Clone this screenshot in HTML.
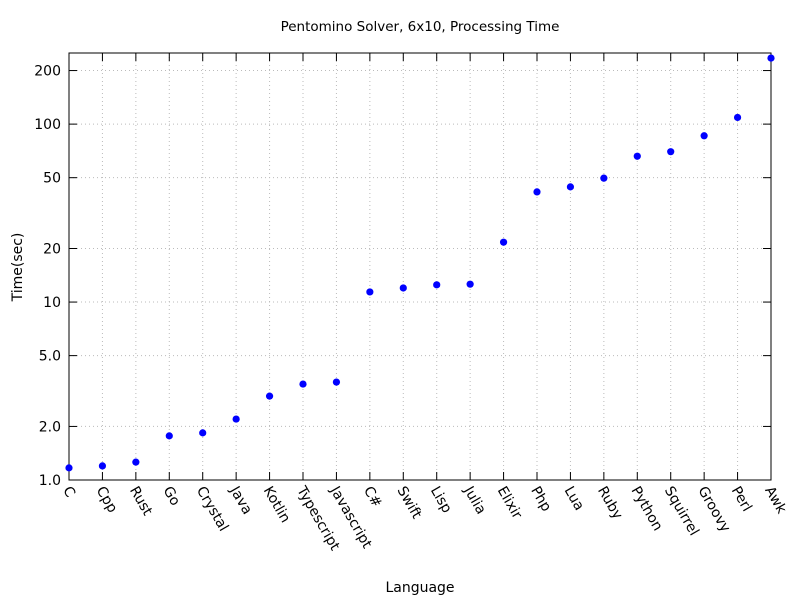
<!DOCTYPE html>
<html><head><meta charset="utf-8"><style>
body{margin:0;background:#fff}
svg{display:block;font-family:"DejaVu Sans","Liberation Sans",sans-serif}
</style></head><body>
<svg id="chart" width="800" height="600" viewBox="0 0 800 600">
<rect width="800" height="600" fill="#fff"/>
<text x="420" y="31" font-size="13.5" text-anchor="middle">Pentomino Solver, 6x10, Processing Time</text>
<g id="grid"></g>
<g id="axes"></g>
<g id="points"></g>
<text x="420" y="592" font-size="14" text-anchor="middle">Language</text>
<text transform="translate(22,267) rotate(-90)" font-size="14" text-anchor="middle">Time(sec)</text>
</svg>
<script>
const categories=["C","Cpp","Rust","Go","Crystal","Java","Kotlin","Typescript","Javascript","C#","Swift","Lisp","Julia","Elixir","Php","Lua","Ruby","Python","Squirrel","Groovy","Perl","Awk"];
const times=[1.17,1.2,1.26,1.77,1.84,2.2,2.96,3.46,3.55,11.4,12.0,12.5,12.6,21.7,41.6,44.4,49.7,66,70,86,109,235];
const yTicks=[1,2,5,10,20,50,100,200];
const yTickLabels=["1.0","2.0","5.0","10","20","50","100","200"];
const L=69,R=771,T=53,B=480,yMin=1,yMax=251;
const NS="http://www.w3.org/2000/svg";
function xs(i){return L+i*(R-L)/(categories.length-1);}
function ys(v){return B-(Math.log10(v)-Math.log10(yMin))/(Math.log10(yMax)-Math.log10(yMin))*(B-T);}
function mk(tag,attrs,parent){const e=document.createElementNS(NS,tag);for(const k in attrs)e.setAttribute(k,attrs[k]);parent.appendChild(e);return e;}
const grid=document.getElementById('grid'),axes=document.getElementById('axes'),pts=document.getElementById('points');
yTicks.forEach((t,i)=>{const y=ys(t);
 const g=mk('line',{x1:L,x2:R,y1:y,y2:y,stroke:'#bbb','stroke-width':1,'stroke-dasharray':'1,3'},grid);
 
 
 const tk=mk('line',{x1:L,x2:L+8,y1:y,y2:y,stroke:'#000'},axes);
 
 
 const tk2=mk('line',{x1:R,x2:R-8,y1:y,y2:y,stroke:'#000'},axes);
 
 
 const tx=mk('text',{x:L-8,y:y+5,'font-size':14,'text-anchor':'end'},axes);tx.textContent=yTickLabels[i];
 
 
});
categories.forEach((c,i)=>{const x=xs(i);
 if(i>0&&i<categories.length-1){const g=mk('line',{x1:x,x2:x,y1:T,y2:B,stroke:'#bbb','stroke-width':1,'stroke-dasharray':'1,3'},grid);
 
 }
 const tk=mk('line',{x1:x,x2:x,y1:B,y2:B-8,stroke:'#000'},axes);
 
 
 const tk2=mk('line',{x1:x,x2:x,y1:T,y2:T+8,stroke:'#000'},axes);
 
 
 const tx=mk('text',{transform:`translate(${x+2},${B+5}) rotate(60)`,'font-size':14,'dominant-baseline':'hanging'},axes);tx.textContent=c;
 
 
 const p=mk('circle',{cx:x,cy:ys(times[i]),r:3.6,fill:'#0000ff'},pts);
 
 
});
const fr=mk('rect',{x:L,y:T,width:R-L,height:B-T,fill:'none',stroke:'#000'},axes);


</script>
</body></html>
